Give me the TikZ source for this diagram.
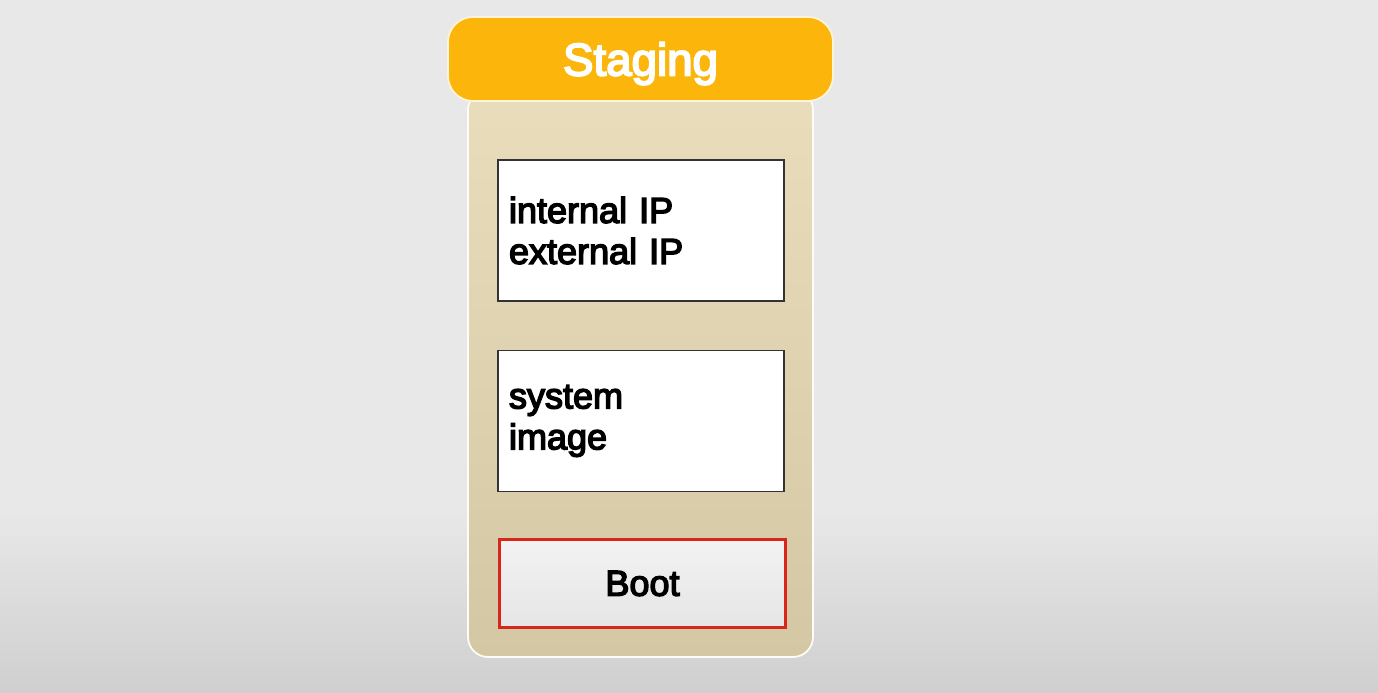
\documentclass[tikz,border=0pt]{standalone}
\usepackage{fontspec}
\setmainfont{Liberation Sans}
\newfontfamily\medfont[FakeBold=4]{Liberation Sans}
\usepackage{tikz}
\usetikzlibrary{positioning}

\definecolor{bggray}{HTML}{E8E8E8}
\definecolor{bgdark}{HTML}{CFCFCF}
\definecolor{panelTop}{HTML}{E9DDBC}
\definecolor{panelBot}{HTML}{D4C7A3}
\definecolor{stagingOrange}{HTML}{FBB50B}
\definecolor{bootRed}{HTML}{D9261C}

\begin{document}
\begin{tikzpicture}[
    infobox/.style={draw=black!80, fill=white, line width=0.6pt, minimum width=5.72cm, minimum height=2.82cm,
      text width=5.28cm, align=left, inner xsep=0.22cm, font=\medfont\fontsize{20.5}{23.3}\selectfont},
    bootbox/.style={draw=bootRed, line width=1.6pt, top color=white!95!black, bottom color=white!90!black,
      minimum width=5.72cm, minimum height=1.76cm, font=\medfont\fontsize{20.5}{23.3}\selectfont}
  ]
          % background
          \fill [bggray] (0,3.66) rectangle (27.56,13.86);
          \shade [top color=bggray, bottom color=bgdark] (0,0) rectangle (27.56,3.66);
          \useasboundingbox (0,0) rectangle (27.56,13.86);

          % panel and header
          \shade [top color=panelTop, bottom color=panelBot, draw=white!90!panelTop, line width=1pt, rounded corners=0.4cm]
            (9.36,0.72) rectangle (16.26,12.06);
          \node [draw=white!85!stagingOrange, fill=stagingOrange, line width=1pt, rounded corners=0.5cm,
            minimum width=7.7cm, minimum height=1.68cm, text=white, text height=0.76cm, text depth=0.1cm,
            font=\medfont\fontsize{26}{30}\selectfont]
            (staging) at (12.81,12.68) {Staging};

          \node [infobox] (ipbox) at (12.82,9.25) {internal IP\\external IP};
          \node [infobox] (imagebox) at (12.82,5.44) {system\\image};
          \node [bootbox] (boot) at (12.85,2.19) {Boot};
        \end{tikzpicture}
\end{document}
